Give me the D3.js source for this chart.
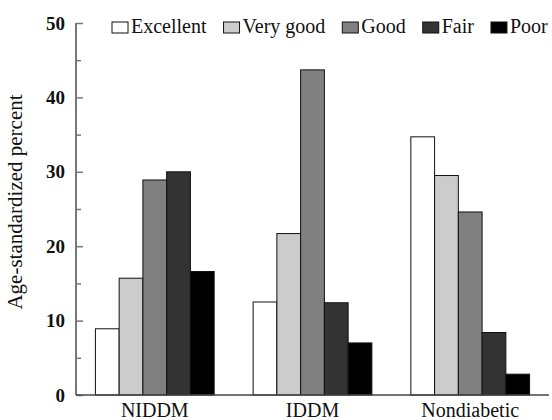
<!DOCTYPE html>
<html>
<head>
<meta charset="utf-8">
<script src="https://cdn.jsdelivr.net/npm/d3@7"></script>
<style>
    body { margin: 0; background: #fff; }
    svg { display: block; }
</style>
</head>
<body>
<div id="chart"></div>
<script>
// données
const groups = ["NIDDM", "IDDM", "Nondiabetic"];
const ratings = ["Excellent", "Very good", "Good", "Fair", "Poor"];
const niddm = [8.9, 15.7, 28.9, 30.0, 16.6];
const iddm = [12.5, 21.7, 43.7, 12.4, 7.0];
const nondiabetic = [34.7, 29.5, 24.6, 8.4, 2.8];
const majorTicks = [0, 10, 20, 30, 40, 50];
const minorTicks = [5, 15, 25, 35, 45];
const fills = ["#ffffff", "#cccccc", "#808080", "#333333", "#000000"];

const seriesByGroup = [niddm, iddm, nondiabetic];

document.addEventListener("DOMContentLoaded", () => {
    const width = 552;
    const height = 420;
    const margin = { top: 23, right: 3, bottom: 25, left: 76 };

    const svg = d3.select("#chart")
        .append("svg")
        .attr("width", width)
        .attr("height", height);

    // échelles
    const x0 = d3.scaleBand()
        .domain(groups)
        .range([margin.left, width - margin.right])
        .paddingInner(0.247)
        .paddingOuter(0.123);

    const x1 = d3.scaleBand()
        .domain(ratings)
        .range([0, x0.bandwidth()]);

    const y = d3.scaleLinear()
        .domain([0, 50])
        .range([height - margin.bottom, margin.top]);

    const color = d3.scaleOrdinal().domain(ratings).range(fills);

    // barres
    const g = svg.append("g");
    groups.forEach((grp, i) => {
        g.selectAll(null)
            .data(seriesByGroup[i].map((v, j) => ({ rating: ratings[j], value: v })))
            .join("rect")
            .attr("x", d => x0(grp) + x1(d.rating))
            .attr("y", d => y(d.value))
            .attr("width", x1.bandwidth())
            .attr("height", d => y(0) - y(d.value))
            .attr("fill", d => color(d.rating))
            .attr("stroke", "#111")
            .attr("stroke-width", 1);
    });

    // axe Y (graduations vers l'intérieur)
    const yAxis = svg.append("g")
        .attr("transform", `translate(${margin.left},0)`)
        .call(d3.axisLeft(y).tickValues(majorTicks).tickSize(-7).tickPadding(11))
        .call(s => s.select(".domain").remove());
    yAxis.selectAll("line").attr("stroke", "#777").attr("stroke-width", 1.5);
    yAxis.selectAll("text")
        .style("font-family", "'Liberation Serif', serif")
        .style("font-weight", "bold")
        .style("font-size", "19px")
        .attr("fill", "#111");

    svg.append("g")
        .attr("transform", `translate(${margin.left},0)`)
        .call(d3.axisLeft(y).tickValues(minorTicks).tickSize(-5).tickFormat(""))
        .call(s => s.select(".domain").remove())
        .selectAll("line").attr("stroke", "#777").attr("stroke-width", 1.5);

    // lignes des axes
    svg.append("line")
        .attr("x1", margin.left).attr("x2", margin.left)
        .attr("y1", y(50)).attr("y2", y(0))
        .attr("stroke", "#777").attr("stroke-width", 2);
    svg.append("line")
        .attr("x1", margin.left).attr("x2", width - margin.right)
        .attr("y1", y(0)).attr("y2", y(0))
        .attr("stroke", "#444").attr("stroke-width", 1.5);

    // étiquettes X
    svg.selectAll("text.group")
        .data(groups)
        .join("text")
        .attr("class", "group")
        .attr("x", d => x0(d) + x0.bandwidth() / 2)
        .attr("y", y(0) + 22)
        .attr("text-anchor", "middle")
        .style("font-family", "'Liberation Serif', serif")
        .style("font-size", "20px")
        .attr("fill", "#111")
        .text(d => d);

    // titre Y
    svg.append("text")
        .attr("transform", `translate(22,202) rotate(-90)`)
        .attr("text-anchor", "middle")
        .style("font-family", "'Liberation Serif', serif")
        .style("font-size", "21px")
        .attr("fill", "#111")
        .text("Age-standardized percent");

    // légende
    const legend = svg.append("g").attr("transform", "translate(112,22)");
    let lx = 0;
    ratings.forEach(r => {
        legend.append("rect")
            .attr("x", lx).attr("y", 0)
            .attr("width", 16).attr("height", 11)
            .attr("fill", color(r))
            .attr("stroke", "#111");
        const t = legend.append("text")
            .attr("x", lx + 19)
            .attr("y", 11)
            .style("font-family", "'Liberation Serif', serif")
            .style("font-size", "20px")
            .attr("fill", "#111")
            .text(r);
        lx += 19 + t.node().getComputedTextLength() + 17;
    });
});
</script>
</body>
</html>
